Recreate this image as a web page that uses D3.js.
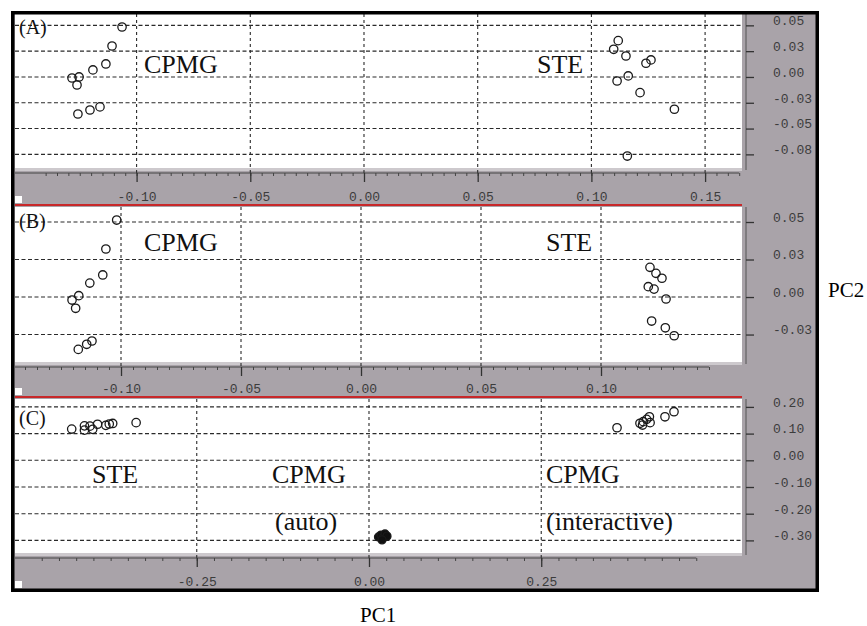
<!DOCTYPE html>
<html>
<head>
<meta charset="utf-8">
<script src="https://cdn.jsdelivr.net/npm/d3@7"></script>
<style>
  body { margin: 0; background: #fff; }
  svg { display: block; }
</style>
</head>
<body>
<svg width="867" height="626"></svg>
<script>
// PCA score plots, three stacked panels

// panel A
const aCpmg = [[-0.1064, 0.0484], [-0.1108, 0.0300], [-0.1135, 0.0126], [-0.1192, 0.0068],
    [-0.1284, -0.0010], [-0.1253, 0.0000], [-0.1262, -0.0078], [-0.1161, -0.0290],
    [-0.1205, -0.0320], [-0.1258, -0.0359]];
const aSte = [[0.1118, 0.0352], [0.1098, 0.0268], [0.1152, 0.0203], [0.1240, 0.0133],
    [0.1262, 0.0165], [0.1162, 0.0010], [0.1113, -0.0039], [0.1214, -0.0152],
    [0.1365, -0.0313], [0.1158, -0.0766]];
const aXTicks = [-0.10, -0.05, 0.00, 0.05, 0.10, 0.15];
const aXLabels = ["-0.10", "-0.05", "0.00", "0.05", "0.10", "0.15"];
const aYTicks = [0.05, 0.025, 0, -0.025, -0.05, -0.075];
const aYLabels = ["0.05", "0.03", "0.00", "-0.03", "-0.05", "-0.08"];

// panel B
const bCpmg = [[-0.1018, 0.0513], [-0.1063, 0.0320], [-0.1076, 0.0147], [-0.1130, 0.0093],
    [-0.1176, 0.0009], [-0.1204, -0.0020], [-0.1189, -0.0075], [-0.1121, -0.0293],
    [-0.1143, -0.0315], [-0.1178, -0.0349]];
const bSte = [[0.1204, 0.0198], [0.1229, 0.0158], [0.1254, 0.0125], [0.1197, 0.0069],
    [0.1221, 0.0053], [0.1271, -0.0013], [0.1211, -0.0160], [0.1268, -0.0205],
    [0.1305, -0.0258]];
const bXTicks = [-0.10, -0.05, 0.00, 0.05, 0.10];
const bXLabels = ["-0.10", "-0.05", "0.00", "0.05", "0.10"];
const bYTicks = [0.05, 0.025, 0, -0.025];
const bYLabels = ["0.05", "0.03", "0.00", "-0.03"];

// panel C
const cSte = [[-0.4315, 0.117], [-0.413, 0.129], [-0.413, 0.113], [-0.405, 0.128],
    [-0.401, 0.116], [-0.394, 0.135], [-0.382, 0.131], [-0.377, 0.136],
    [-0.372, 0.138], [-0.338, 0.141]];
const cCpmgInter = [[0.360, 0.122], [0.3933, 0.1386], [0.398, 0.1446], [0.403, 0.1535],
    [0.407, 0.163], [0.408, 0.141], [0.397, 0.132], [0.4296, 0.163], [0.4427, 0.182]];
const cCpmgAuto = [[0.0138, -0.287], [0.0174, -0.280], [0.0203, -0.291], [0.0232, -0.276],
    [0.0261, -0.284], [0.0189, -0.298]];
const cXTicks = [-0.25, 0.00, 0.25];
const cXLabels = ["-0.25", "0.00", "0.25"];
const cYTicks = [0.20, 0.10, 0.00, -0.10, -0.20, -0.30];
const cYLabels = ["0.20", "0.10", "0.00", "-0.10", "-0.20", "-0.30"];

const gray = "#a9a3a9";
const left = 15, right = 742, frameRight = 816;

const svg = d3.select("svg");

// gray background inside the frame
svg.append("rect")
    .attr("x", 11).attr("y", 11)
    .attr("width", 808).attr("height", 581)
    .attr("fill", gray);

const panels = [
  {top: 14, bottom: 168, band: 204, red: true,
   xd: [-0.15347, 0.16623], yd: [0.061, -0.0882], minor: [-0.14, 0.165, 0.005],
   xt: aXTicks, xl: aXLabels, yt: aYTicks, yl: aYLabels,
   groups: [{pts: aCpmg}, {pts: aSte}],
   texts: [{t: "(A)", x: 19, y: 34, s: 20}, {t: "CPMG", x: 144, y: 73, s: 26}, {t: "STE", x: 537, y: 73, s: 26}]},
  {top: 207, bottom: 362, band: 396, red: true,
   xd: [-0.14417, 0.15875], yd: [0.06, -0.0433], minor: [-0.14, 0.145, 0.005],
   xt: bXTicks, xl: bXLabels, yt: bYTicks, yl: bYLabels,
   groups: [{pts: bCpmg}, {pts: bSte}],
   texts: [{t: "(B)", x: 19, y: 228, s: 20}, {t: "CPMG", x: 144, y: 251, s: 26}, {t: "STE", x: 546, y: 251, s: 26}]},
  {top: 399, bottom: 553, band: 589, red: false,
   xd: [-0.5138, 0.5414], yd: [0.2296, -0.3472], minor: [-0.475, 0.475, 0.025],
   xt: cXTicks, xl: cXLabels, yt: cYTicks, yl: cYLabels,
   groups: [{pts: cSte}, {pts: cCpmgInter}, {pts: cCpmgAuto, filled: true}],
   texts: [{t: "(C)", x: 19, y: 425, s: 20}, {t: "STE", x: 92, y: 483, s: 26},
           {t: "CPMG", x: 272, y: 483, s: 26}, {t: "(auto)", x: 275, y: 530, s: 26},
           {t: "CPMG", x: 546, y: 483, s: 26}, {t: "(interactive)", x: 546, y: 530, s: 26}]}
];

panels.forEach(p => {
  const x = d3.scaleLinear().domain(p.xd).range([left, right]);
  const y = d3.scaleLinear().domain(p.yd).range([p.top, p.bottom]);
  const g = svg.append("g");

  // white plot area + light strip under it
  g.append("rect")
      .attr("x", left).attr("y", p.top)
      .attr("width", right - left).attr("height", p.bottom - p.top)
      .attr("fill", "#fff");
  g.append("rect")
      .attr("x", left).attr("y", p.bottom)
      .attr("width", right - left).attr("height", 3)
      .attr("fill", "#cdc9cd");

  // grid
  g.selectAll(".hgrid")
    .data(p.yt)
    .join("line")
      .attr("x1", left).attr("x2", right)
      .attr("y1", d => y(d)).attr("y2", d => y(d))
      .attr("stroke", "#2a2a2a")
      .attr("stroke-width", 1.1)
      .attr("stroke-dasharray", "4,2.5");
  g.selectAll(".vgrid")
    .data(p.xt)
    .join("line")
      .attr("x1", d => x(d)).attr("x2", d => x(d))
      .attr("y1", p.top).attr("y2", p.bottom + 5)
      .attr("stroke", "#2a2a2a")
      .attr("stroke-width", 1.1)
      .attr("stroke-dasharray", "3,3");

  // bottom axis
  const axisY = p.bottom + 5;
  const minor = d3.range(p.minor[0], p.minor[1] + 1e-9, p.minor[2]);
  g.append("line")
      .attr("x1", left).attr("x2", x(p.minor[1]))
      .attr("y1", axisY).attr("y2", axisY)
      .attr("stroke", "#444").attr("stroke-width", 1);
  g.append("g")
      .attr("transform", `translate(0,${axisY})`)
      .call(d3.axisBottom(x).tickValues(minor).tickSize(3).tickFormat(""))
      .call(a => a.select(".domain").remove())
      .call(a => a.selectAll("line").attr("stroke", "#444"));
  g.append("g")
      .attr("transform", `translate(0,${axisY})`)
      .call(d3.axisBottom(x).tickValues(p.xt).tickSize(9)
        .tickFormat((d, i) => p.xl[i]))
      .call(a => a.select(".domain").remove())
      .call(a => a.selectAll("line").attr("stroke", "#333").attr("stroke-width", 1.3))
      .call(a => a.selectAll("text")
        .attr("y", p.band - 3 - axisY).attr("dy", 0)
        .attr("fill", "#3c3c3c")
        .style("font-family", "'Liberation Mono', 'DejaVu Sans Mono', monospace")
        .style("font-size", "13px"));

  // right axis
  g.append("g")
      .attr("transform", "translate(746,0)")
      .call(d3.axisRight(y).tickValues(p.yt).tickSize(8).tickSizeOuter(0)
        .tickPadding(19).tickFormat((d, i) => p.yl[i]))
      .call(a => a.select(".domain").attr("stroke", "#555")
        .attr("d", `M0,${p.top}V${p.bottom + 2}`))
      .call(a => a.selectAll("line").attr("stroke", "#333").attr("stroke-width", 1.3))
      .call(a => a.selectAll("text")
        .attr("dy", "-0.05em")
        .attr("fill", "#3c3c3c")
        .style("font-family", "'Liberation Mono', 'DejaVu Sans Mono', monospace")
        .style("font-size", "13px"));

  // points
  p.groups.forEach(grp => {
    g.append("g").selectAll("circle")
      .data(grp.pts)
      .join("circle")
        .attr("cx", d => x(d[0]))
        .attr("cy", d => y(d[1]))
        .attr("r", grp.filled ? 4 : 4.2)
        .attr("fill", grp.filled ? "#111" : "none")
        .attr("stroke", "#1a1a1a")
        .attr("stroke-width", 1.3);
  });

  // labels inside panel
  g.selectAll(".lab")
    .data(p.texts)
    .join("text")
      .attr("x", d => d.x).attr("y", d => d.y)
      .style("font-family", "'Liberation Serif', 'Times New Roman', serif")
      .style("font-size", d => d.s + "px")
      .attr("fill", "#111")
      .text(d => d.t);

  // red separator under the gray band
  if (p.red) {
    g.append("line")
        .attr("x1", left).attr("x2", right)
        .attr("y1", p.band + 1).attr("y2", p.band + 1)
        .attr("stroke", "#c8282a").attr("stroke-width", 2);
  }

  // little white square at the bottom-left
  g.append("rect")
      .attr("x", left).attr("y", p.band - 8)
      .attr("width", 7).attr("height", 7)
      .attr("fill", "#fff");
});

// black frame
svg.append("rect")
    .attr("x", 12.75).attr("y", 12.75)
    .attr("width", 804.5).attr("height", 577.5)
    .attr("fill", "none")
    .attr("stroke", "#000")
    .attr("stroke-width", 3.5);

// outer axis titles
svg.append("text")
    .attr("x", 828).attr("y", 297)
    .style("font-family", "'Liberation Serif', 'Times New Roman', serif")
    .style("font-size", "21px")
    .text("PC2");
svg.append("text")
    .attr("x", 360).attr("y", 622)
    .style("font-family", "'Liberation Serif', 'Times New Roman', serif")
    .style("font-size", "21px")
    .text("PC1");
</script>
</body>
</html>
